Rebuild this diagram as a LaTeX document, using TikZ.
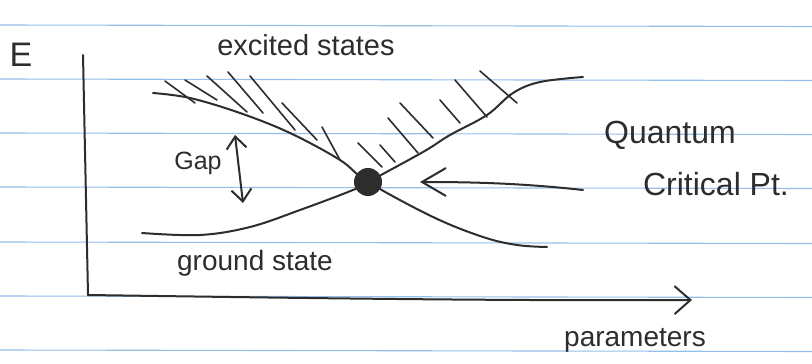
\documentclass[tikz,border=0pt]{standalone}
\usepackage{fontspec}
\setmainfont{Liberation Sans}
\usetikzlibrary{arrows.meta}
\definecolor{ink}{RGB}{45,45,45}
\definecolor{ruleblue}{RGB}{150,190,235}
\begin{document}
\begin{tikzpicture}[x=1pt,y=-1pt,
  curve/.style={ink, line width=2pt, line cap=round, line join=round},
  hatch/.style={ink, line width=1.6pt, line cap=round},
  lbl/.style={text=ink, inner sep=0pt, anchor=center},
]
\fill[white] (0,0) rectangle (812,364);
\useasboundingbox (0,0) rectangle (812,364);
% ruled paper
\foreach \yy in {25,79,133,187,242,296,350}
  \draw[ruleblue, line width=1.1pt] (0,\yy) -- (812,\yy+1.5);

% axes
\coordinate (ytop) at (83,55);
\coordinate (origin) at (88,295);
\coordinate (xend) at (692,300);
\draw[curve] (ytop) -- (origin);
\draw[curve, -{Straight Barb[length=16pt, width=28pt, line width=2pt]}]
  (origin) .. controls (300,298) and (500,301) .. (xend);

% quantum critical point
\node[circle, fill=ink, minimum size=28pt, inner sep=0pt] (qcp) at (368,182) {};

% energy levels
\draw[curve] plot[smooth, tension=0.6] coordinates
  {(153,93) (190,98) (240,113) (290,133) (340,160) (qcp.center) (433,217) (483,237) (517,245) (547,247)};
\draw[curve] plot[smooth, tension=0.6] coordinates
  {(142,233) (200,235) (250,227) (300,210) (353,190) (qcp.center) (423,152) (450,135) (487,115) (513,93) (540,82) (583,77)};

% hatching
\foreach \a/\b/\c/\d in {
  165/81/195/103, 185/80/217/100, 207/76/247/112, 228/72/263/113,
  250/76/295/130, 282/103/317/140, 322/127/340/160,
  358/143/382/167, 380/145/395/162, 388/118/418/153, 400/103/433/138,
  440/100/460/123, 455/80/487/117, 480/71/517/103}
  \draw[hatch] (\a,\b) -- (\c,\d);

% labels
\node[lbl, font=\fontsize{34}{34}\selectfont] (elab) at (21,55) {E};
\node[lbl, font=\fontsize{29}{29}\selectfont] (exc) at (306,45) {excited states};
\node[lbl, font=\fontsize{28}{28}\selectfont] (gnd) at (255,263) {ground state};
\node[lbl, font=\fontsize{28}{28}\selectfont] (par) at (635,340) {parameters};
\node[lbl, font=\fontsize{25}{25}\selectfont] (gap) at (198,163) {Gap};
\node[lbl, font=\fontsize{32}{32}\selectfont] (qu) at (670,135) {Quantum};
\node[lbl, font=\fontsize{32}{32}\selectfont] (crit) at (716,184) {Critical Pt.};

% gap arrow
\coordinate (gaptop) at (235,135);
\coordinate (gapbot) at (243,203);
\draw[curve, {Straight Barb[length=12pt, width=20pt, line width=2pt]}-{Straight Barb[length=12pt, width=20pt, line width=2pt]}] (gaptop) -- (gapbot);

% arrow to QCP
\coordinate (qstart) at (583,190);
\draw[curve, -{Straight Barb[length=24pt, width=28pt, line width=2pt]}, shorten >=52pt]
  (qstart) .. controls (520,183) and (470,182) .. (qcp.center);
\end{tikzpicture}
\end{document}
